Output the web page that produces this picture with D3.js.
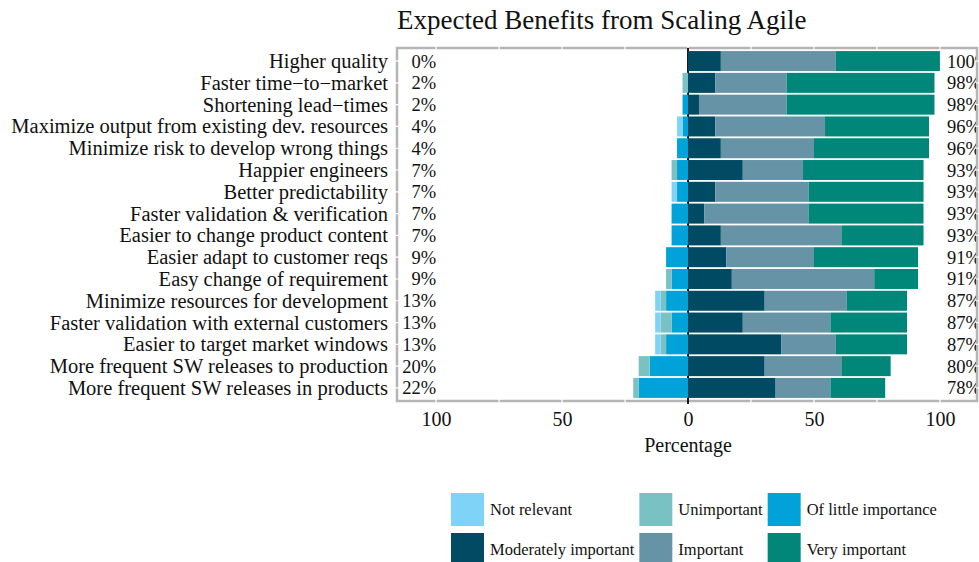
<!DOCTYPE html>
<html>
<head>
<meta charset="utf-8">
<script src="https://cdn.jsdelivr.net/npm/d3@7"></script>
<style>
  body { margin: 0; background: #fff; }
  svg { display: block; font-family: "Liberation Serif", "Times New Roman", serif; }
</style>
</head>
<body>
<svg id="chart" width="979" height="562"></svg>
<script>
const categories = [
  "Higher quality",
  "Faster time\u2212to\u2212market",
  "Shortening lead\u2212times",
  "Maximize output from existing dev. resources",
  "Minimize risk to develop wrong things",
  "Happier engineers",
  "Better predictability",
  "Faster validation & verification",
  "Easier to change product content",
  "Easier adapt to customer reqs",
  "Easy change of requirement",
  "Minimize resources for development",
  "Faster validation with external customers",
  "Easier to target market windows",
  "More frequent SW releases to production",
  "More frequent SW releases in products"
];

// percentages of respondents per answer
const notRelevant   = [0, 0, 0, 2.17, 0, 0, 2.17, 0, 0, 0, 0, 2.17, 2.17, 2.17, 0, 0];
const unimportant   = [0, 2.17, 0, 0, 0, 2.17, 0, 0, 0, 0, 2.17, 2.17, 4.35, 2.17, 4.35, 2.17];
const littleImport  = [0, 0, 2.17, 2.17, 4.35, 4.35, 4.35, 6.52, 6.52, 8.70, 6.52, 8.70, 6.52, 8.70, 15.22, 19.57];
const moderately    = [13.04, 10.87, 4.35, 10.87, 13.04, 21.74, 10.87, 6.52, 13.04, 15.22, 17.39, 30.43, 21.74, 36.96, 30.43, 34.78];
const important     = [45.65, 28.26, 34.78, 43.48, 36.96, 23.91, 36.96, 41.30, 47.83, 34.78, 56.52, 32.61, 34.78, 21.74, 30.43, 21.74];
const veryImportant = [41.30, 58.70, 58.70, 41.30, 45.65, 47.83, 45.65, 45.65, 32.61, 41.30, 17.39, 23.91, 30.43, 28.26, 19.57, 21.74];

const levels = ["Not relevant", "Unimportant", "Of little importance",
                "Moderately important", "Important", "Very important"];
const colors = ["#7fd3f7", "#79c1c2", "#00a3d9", "#004b63", "#6693a6", "#00877a"];

const width = 979, height = 562;
const panel = { left: 397, right: 977, top: 48, bottom: 401 };

// table for the stack: negative side pushes left from zero
const table = categories.map((c, i) => ({
  cat: c,
  "Moderately important": moderately[i],
  "Important": important[i],
  "Very important": veryImportant[i],
  "Of little importance": -littleImport[i],
  "Unimportant": -unimportant[i],
  "Not relevant": -notRelevant[i]
}));

const stackKeys = ["Moderately important", "Important", "Very important",
                   "Of little importance", "Unimportant", "Not relevant"];
const series = d3.stack().keys(stackKeys).offset(d3.stackOffsetDiverging)(table);

const x = d3.scaleLinear().domain([-115.5, 114.7]).range([panel.left, panel.right]);
const y = d3.scalePoint().domain(categories).range([panel.top, panel.bottom]).padding(0.6);
const color = d3.scaleOrdinal().domain(levels).range(colors);
const barH = 20;

const svg = d3.select("#chart");

svg.append("defs").append("clipPath").attr("id", "panelClip")
  .append("rect")
  .attr("x", panel.left).attr("y", panel.top)
  .attr("width", panel.right - panel.left - 1)
  .attr("height", panel.bottom - panel.top);

// title
svg.append("text")
  .attr("x", panel.left)
  .attr("y", 29)
  .attr("font-size", 27)
  .attr("fill", "#111")
  .text("Expected Benefits from Scaling Agile");

// panel border
svg.append("rect")
  .attr("x", panel.left).attr("y", panel.top)
  .attr("width", panel.right - panel.left)
  .attr("height", panel.bottom - panel.top)
  .attr("fill", "#fff")
  .attr("stroke", "#b5b5b5")
  .attr("stroke-width", 2.5);

// white grid lines (only show where they cross the border)
const grid = svg.append("g").attr("stroke", "#fff").attr("stroke-width", 1.2);
grid.selectAll("line.v")
  .data(d3.range(-100, 101, 25))
  .join("line")
  .attr("class", "v")
  .attr("x1", d => x(d)).attr("x2", d => x(d))
  .attr("y1", panel.top - 2).attr("y2", panel.bottom + 2);
grid.selectAll("line.h")
  .data(categories)
  .join("line")
  .attr("class", "h")
  .attr("x1", panel.left - 2).attr("x2", panel.right + 2)
  .attr("y1", d => y(d)).attr("y2", d => y(d));

// zero line
svg.append("line")
  .attr("x1", x(0)).attr("x2", x(0))
  .attr("y1", panel.top).attr("y2", panel.bottom + 3)
  .attr("stroke", "#000")
  .attr("stroke-width", 1.8);

// bars
svg.append("g")
  .selectAll("g")
  .data(series)
  .join("g")
  .attr("fill", s => color(s.key))
  .selectAll("rect")
  .data(s => s)
  .join("rect")
  .attr("x", d => x(d[0]))
  .attr("width", d => x(d[1]) - x(d[0]))
  .attr("y", d => y(d.data.cat) - barH / 2)
  .attr("height", barH);

// percentage labels
const leftPct = categories.map((c, i) => Math.round(notRelevant[i] + unimportant[i] + littleImport[i]));
const rightPct = categories.map((c, i) => Math.round(moderately[i] + important[i] + veryImportant[i]));

svg.append("g")
  .attr("font-size", 18.5)
  .attr("fill", "#111")
  .attr("text-anchor", "end")
  .selectAll("text")
  .data(categories)
  .join("text")
  .attr("x", x(-100))
  .attr("y", d => y(d) + 6.5)
  .text((d, i) => leftPct[i] + "%");

svg.append("g")
  .attr("clip-path", "url(#panelClip)")
  .attr("font-size", 18.5)
  .attr("fill", "#111")
  .selectAll("text")
  .data(categories)
  .join("text")
  .attr("x", x(100) + 7)
  .attr("y", d => y(d) + 6.5)
  .text((d, i) => rightPct[i] + "%");

// category labels
svg.append("g")
  .attr("font-size", 20.5)
  .attr("fill", "#111")
  .attr("text-anchor", "end")
  .selectAll("text")
  .data(categories)
  .join("text")
  .attr("x", panel.left - 9)
  .attr("y", d => y(d) + 7)
  .text(d => d);

// x axis
const xAxis = svg.append("g")
  .attr("transform", `translate(0,${panel.bottom})`)
  .call(d3.axisBottom(x).tickValues([-100, -50, 0, 50, 100]).tickFormat(d => Math.abs(d)).tickSize(0).tickPadding(11));
xAxis.select(".domain").remove();
xAxis.selectAll("text")
  .attr("font-family", "Liberation Serif, serif")
  .attr("font-size", 20)
  .attr("fill", "#111");

svg.append("text")
  .attr("x", x(0))
  .attr("y", 452)
  .attr("text-anchor", "middle")
  .attr("font-size", 20)
  .attr("fill", "#111")
  .text("Percentage");

// legend, 3 columns x 2 rows
const sw = 33;
const legend = svg.append("g").attr("transform", "translate(451,493)");
const items = legend.selectAll("g")
  .data(levels)
  .join("g");
items.append("rect")
  .attr("width", sw).attr("height", sw)
  .attr("fill", d => color(d));
items.append("text")
  .attr("x", sw + 6)
  .attr("y", sw / 2 + 5.5)
  .attr("font-size", 16.5)
  .attr("fill", "#111")
  .text(d => d);

const colW = [0, 1, 2].map(c => {
  let w = 0;
  items.filter((d, i) => i % 3 === c).select("text").each(function() {
    w = Math.max(w, this.getComputedTextLength());
  });
  return sw + 6 + w + 5;
});
items.attr("transform", (d, i) => {
  const c = i % 3, r = Math.floor(i / 3);
  const xo = d3.sum(colW.slice(0, c));
  return `translate(${xo},${r * 40})`;
});
</script>
</body>
</html>
